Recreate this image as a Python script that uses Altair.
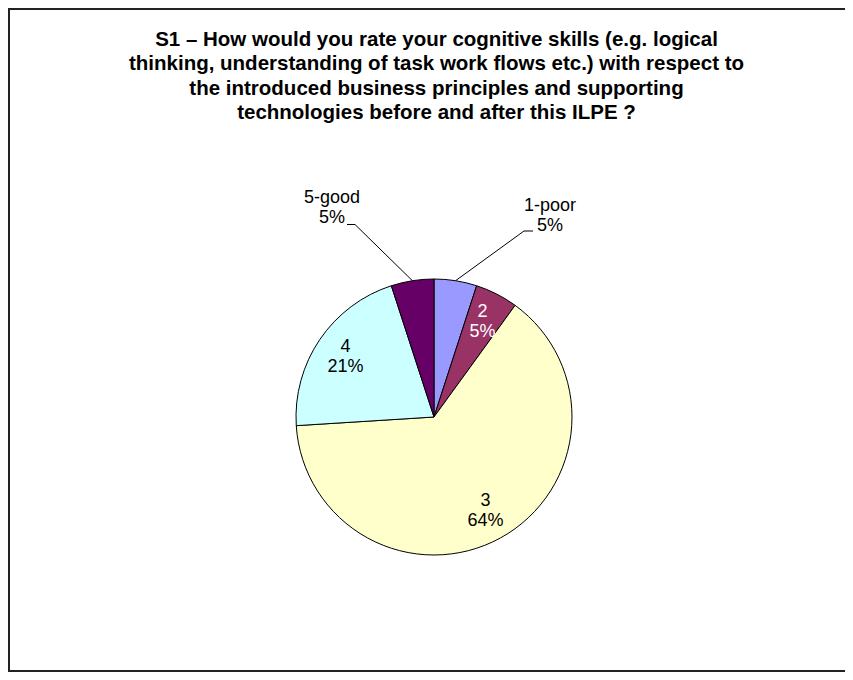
import math
import altair as alt
import pandas as pd

# ---- data ----
categories = ["1-poor", "2", "3", "4", "5-good"]
shares = [5, 5, 64, 21, 5]
pct_labels = ["5%", "5%", "64%", "21%", "5%"]
colors = ["#9999FF", "#993366", "#FFFFCC", "#CCFFFF", "#660066"]
label_colors = ["black", "white", "black", "black", "black"]
title_lines = [
    "S1 \u2013 How would you rate your cognitive skills (e.g. logical",
    "thinking, understanding of task work flows etc.) with respect to",
    "the introduced business principles and supporting",
    "technologies before and after this ILPE ?",
]

# ---- layout ----
W, H = 837, 664
CX, CY, R = 426, 409, 138
R_IN = 107
FONT = "Liberation Sans"
LFS, LH = 18, 20
outside = {"1-poor": (542, 208), "5-good": (324, 200)}
elbows = {"1-poor": [(516, 223), (525, 223)], "5-good": [(347, 216.5), (339, 216.5)]}

total = sum(shares)
rows = []
cum = 0
for i, (c, v) in enumerate(zip(categories, shares)):
    mid = (cum + v / 2) / total * 2 * math.pi
    cum += v
    if c in outside:
        lx, ly = outside[c]
    else:
        lx = CX + R_IN * math.sin(mid)
        ly = CY - R_IN * math.cos(mid)
    rows.append(dict(cat=c, value=v, idx=i, label=c + "\n" + pct_labels[i],
                     lx=lx, ly=ly - LH / 2, tcol=label_colors[i], mid=mid))
df = pd.DataFrame(rows)

lead = []
for r in rows:
    if r["cat"] in elbows:
        pts = [(CX + R * math.sin(r["mid"]), CY - R * math.cos(r["mid"]))] + elbows[r["cat"]]
        for j, (x, y) in enumerate(pts):
            lead.append(dict(cat=r["cat"], k=j, x=x, y=y))
lead_df = pd.DataFrame(lead)

title_df = pd.DataFrame({"t": title_lines, "y": [31.5 + 24.5 * i for i in range(len(title_lines))]})

xs = alt.Scale(domain=[0, W], range=[0, W])
ys = alt.Scale(domain=[0, H], range=[0, H])

pie = alt.Chart(df).mark_arc(outerRadius=R, stroke="black", strokeWidth=1).encode(
    theta=alt.Theta("value:Q", stack=True),
    color=alt.Color("cat:N", scale=alt.Scale(domain=categories, range=colors), legend=None),
    order=alt.Order("idx:Q"),
    x=alt.value(CX), y=alt.value(CY),
)

labels = alt.Chart(df).mark_text(font=FONT, fontSize=LFS, lineBreak="\n", lineHeight=LH,
                                 align="center", baseline="middle").encode(
    x=alt.X("lx:Q", scale=xs, axis=None),
    y=alt.Y("ly:Q", scale=ys, axis=None),
    text="label:N",
    color=alt.Color("tcol:N", scale=None),
)

leaders = alt.Chart(lead_df).mark_line(color="black", strokeWidth=1).encode(
    x=alt.X("x:Q", scale=xs, axis=None),
    y=alt.Y("y:Q", scale=ys, axis=None),
    detail="cat:N",
    order="k:Q",
)

title = alt.Chart(title_df).mark_text(font=FONT, fontSize=20.5, fontWeight="bold",
                                      align="center", baseline="middle", color="black").encode(
    x=alt.value(428.5),
    y=alt.Y("y:Q", scale=ys, axis=None),
    text="t:N",
)

frame_left = alt.Chart(df).mark_rule(color="#222", strokeWidth=2).encode(
    x=alt.value(1), y=alt.value(0), y2=alt.value(H))
frame_top = alt.Chart(df).mark_rule(color="#222", strokeWidth=2).encode(
    x=alt.value(0), x2=alt.value(W), y=alt.value(1))
frame_bottom = alt.Chart(df).mark_rule(color="#222", strokeWidth=2).encode(
    x=alt.value(0), x2=alt.value(W), y=alt.value(H - 1))

chart = alt.layer(pie, leaders, labels, title, frame_left, frame_top, frame_bottom).properties(
    width=W, height=H, padding=0, autosize=alt.AutoSizeParams(type="none"),
    background="white",
).configure_view(stroke=None)

chart.save("out.html", embed_options={"renderer": "svg", "actions": False})
